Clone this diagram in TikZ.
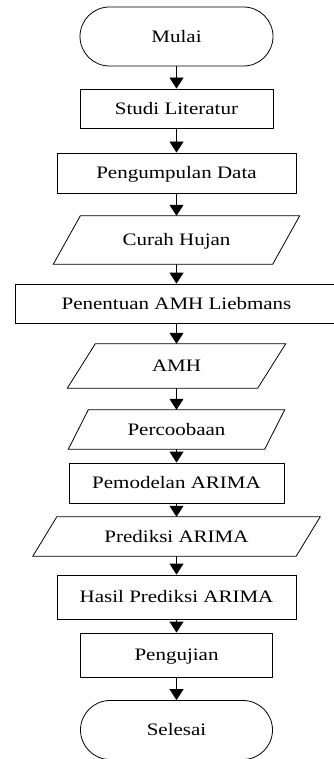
\documentclass[tikz,border=0pt]{standalone}
\usepackage{fontspec}
\setmainfont{Liberation Serif}[FakeStretch=1.2]
\usetikzlibrary{arrows.meta}
\newcommand\iodraw[2]{\draw[boxline] ([xshift=#2]#1.north west) -- ([xshift=#2]#1.north east) -- ([xshift=-#2]#1.south east) -- ([xshift=-#2]#1.south west) -- cycle;}
\begin{document}
\begin{tikzpicture}[x=1pt,y=-1pt,
  every node/.style={font=\fontsize{17.5}{21}\selectfont, inner sep=0pt, text height=15.6pt, text depth=4pt},
  boxline/.style={line width=0.8pt, draw=black},
  procbox/.style={boxline, draw, rectangle},
  termbox/.style={boxline, draw, rectangle, rounded corners=29.5pt, minimum width=193pt, minimum height=59pt},
  iobox/.style={rectangle},
  flow/.style={line width=0.8pt, -{Triangle[width=14pt,length=11pt]}}
]
\useasboundingbox (0,0) rectangle (333,759);
\node[termbox] (mulai) at (176.5,36.5) {Mulai};
\node[procbox, minimum width=193pt, minimum height=39pt] (studi) at (176.5,108.5) {Studi Literatur};
\node[procbox, minimum width=239pt, minimum height=40pt] (kumpul) at (176.5,173) {Pengumpulan Data};
\node[iobox, minimum width=219pt, minimum height=48pt] (curah) at (176.5,240) {Curah Hujan};
\node[procbox, minimum width=323pt, minimum height=39pt] (tentu) at (176.5,303.5) {Penentuan AMH Liebmans};
\node[iobox, minimum width=190pt, minimum height=44pt] (amh) at (176.5,366) {AMH};
\node[iobox, minimum width=196pt, minimum height=39pt] (coba) at (176.5,429.5) {Percoobaan};
\node[procbox, minimum width=215pt, minimum height=40pt] (model) at (176.5,483) {Pemodelan ARIMA};
\node[iobox, minimum width=263pt, minimum height=39pt] (pred) at (176.5,536.5) {Prediksi ARIMA};
\node[procbox, minimum width=239pt, minimum height=44pt] (hasil) at (176.5,597) {Hasil Prediksi ARIMA};
\node[procbox, minimum width=192pt, minimum height=44pt] (uji) at (176.5,655) {Pengujian};
\node[termbox, minimum width=192pt] (selesai) at (176.5,730) {Selesai};
\iodraw{curah}{13.5pt}
\iodraw{amh}{14pt}
\iodraw{coba}{10pt}
\iodraw{pred}{12pt}
\draw[flow] (mulai) -- (studi);
\draw[flow] (studi) -- (kumpul);
\draw[flow] (kumpul) -- (curah);
\draw[flow] (curah) -- (tentu);
\draw[flow] (tentu) -- (amh);
\draw[flow] (amh) -- (coba);
\draw[flow] (coba) -- (model);
\draw[flow] (model) -- (pred);
\draw[flow] (pred) -- (hasil);
\draw[flow] (hasil) -- (uji);
\draw[flow] (uji) -- (selesai);
\end{tikzpicture}
\end{document}
